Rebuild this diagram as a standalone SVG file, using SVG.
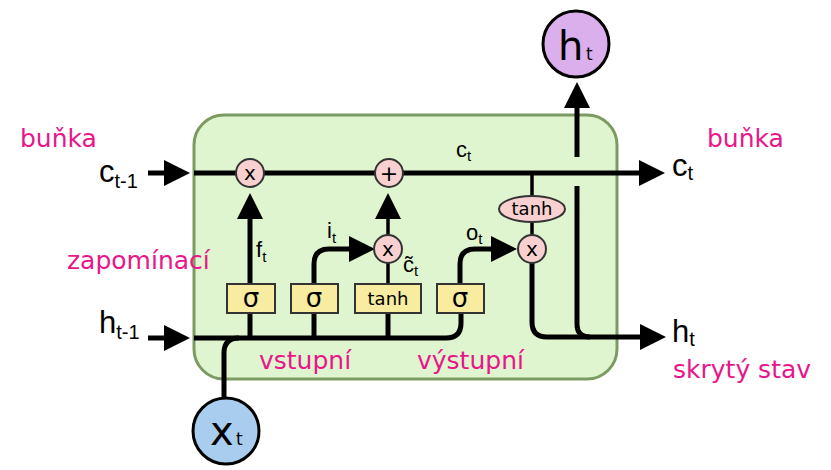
<svg xmlns="http://www.w3.org/2000/svg" width="831" height="470" viewBox="0 0 831 470">
<style>
.ln{fill:none;stroke:#000;stroke-width:5}
.thin{fill:none;stroke:#000;stroke-width:3.5}
.op{fill:#f9d0d0;stroke:#333;stroke-width:2}
.gate{fill:#f7eca0;stroke:#333;stroke-width:2}
.lbl{font-family:"DejaVu Sans",sans-serif;font-size:25px;fill:#e8168a}
.math{font-family:"Liberation Sans",Arial,sans-serif;fill:#000}
.dv{font-family:"DejaVu Sans",sans-serif;fill:#000}
</style>
<defs>
<marker id="arr" viewBox="0 0 26 26" refX="6" refY="13" markerWidth="26" markerHeight="26" markerUnits="userSpaceOnUse" orient="auto">
<path d="M0,0 L26,13 L0,26 z" fill="#000"/>
</marker>
</defs>
<rect width="831" height="470" fill="#fff"/>
<g id="cell">
<rect x="194" y="115" width="423" height="264" rx="30" ry="30" fill="#dff5cf" stroke="#7b9b63" stroke-width="3"/>
</g>
<g id="connectors">
<line class="ln" x1="148" y1="173" x2="170" y2="173" marker-end="url(#arr)"/>
<line class="ln" x1="194" y1="173" x2="645" y2="173" marker-end="url(#arr)"/>
<line class="ln" x1="148" y1="338" x2="170" y2="338" marker-end="url(#arr)"/>
<path class="ln" d="M194,338 L446,338 Q461,338 461,323 L461,313"/>
<path class="ln" d="M224,397 L224,353 Q224,338 239,338"/>
<line class="ln" x1="250" y1="338" x2="250" y2="313"/>
<line class="ln" x1="314" y1="338" x2="314" y2="313"/>
<line class="ln" x1="388" y1="338" x2="388" y2="313"/>
<line class="ln" x1="250" y1="284" x2="250" y2="213" marker-end="url(#arr)"/>
<path class="ln" d="M314,284 L314,264 Q314,249 329,249 L355,249" marker-end="url(#arr)"/>
<path class="ln" d="M460,284 L460,264 Q460,249 475,249 L497,249" marker-end="url(#arr)"/>
<line class="thin" x1="388" y1="284" x2="388" y2="262"/>
<line class="thin" x1="388" y1="236" x2="388" y2="213" marker-end="url(#arr)"/>
<line class="thin" x1="532" y1="173" x2="532" y2="197"/>
<line class="thin" x1="532" y1="221" x2="532" y2="236"/>
<path class="ln" d="M532,262 L532,322 Q532,337 547,337 L646,337" marker-end="url(#arr)"/>
<path class="ln" d="M577,186 L577,324 Q577,337 590,337"/>
<line class="ln" x1="577" y1="157" x2="577" y2="102" marker-end="url(#arr)"/>
</g>
<g id="forget-gate">
<rect class="gate" x="227" y="284" width="48" height="29"/>
<text class="dv" x="251" y="307" font-size="26" text-anchor="middle">σ</text>
</g>
<g id="input-gate">
<rect class="gate" x="291" y="284" width="47" height="29"/>
<text class="dv" x="314" y="307" font-size="26" text-anchor="middle">σ</text>
</g>
<g id="candidate">
<rect class="gate" x="355" y="284" width="66" height="29"/>
<text class="dv" x="388" y="305" font-size="18" text-anchor="middle">tanh</text>
</g>
<g id="output-gate">
<rect class="gate" x="437" y="284" width="47" height="29"/>
<text class="dv" x="460" y="307" font-size="26" text-anchor="middle">σ</text>
</g>
<g id="mul-forget">
<circle class="op" cx="250" cy="173" r="14"/>
<text class="dv" x="250" y="180" font-size="20" text-anchor="middle">x</text>
</g>
<g id="add">
<circle class="op" cx="389" cy="173" r="14"/>
<text class="dv" x="389" y="181" font-size="22" text-anchor="middle">+</text>
</g>
<g id="mul-input">
<circle class="op" cx="388" cy="249" r="14"/>
<text class="dv" x="388" y="256" font-size="20" text-anchor="middle">x</text>
</g>
<g id="tanh-out">
<ellipse class="op" cx="532" cy="209" rx="33" ry="13"/>
<text class="dv" x="532" y="215" font-size="18" text-anchor="middle">tanh</text>
</g>
<g id="mul-output">
<circle class="op" cx="532" cy="249" r="14"/>
<text class="dv" x="532" y="256" font-size="20" text-anchor="middle">x</text>
</g>
<g id="h-out">
<circle cx="576" cy="44" r="33" fill="#dbaeec" stroke="#000" stroke-width="3"/>
<text class="dv" x="558" y="60" font-size="40">h</text>
<text class="dv" x="586" y="60" font-size="17">t</text>
</g>
<g id="x-in">
<circle cx="226" cy="431" r="33" fill="#a8cdee" stroke="#000" stroke-width="3"/>
<text class="dv" x="210" y="445" font-size="40">x</text>
<text class="dv" x="236" y="445" font-size="17">t</text>
</g>
<g id="labels">
<text class="math" x="99" y="182" font-size="31">c<tspan font-size="20" dy="6">t-1</tspan></text>
<text class="math" x="99" y="333" font-size="31">h<tspan font-size="20" dy="6">t-1</tspan></text>
<text class="math" x="672" y="176" font-size="31">c<tspan font-size="20" dy="4">t</tspan></text>
<text class="math" x="672" y="342" font-size="31">h<tspan font-size="20" dy="4">t</tspan></text>
<text class="math" x="456" y="157" font-size="22">c<tspan font-size="15" dy="4">t</tspan></text>
<text class="math" x="256" y="257" font-size="22">f<tspan font-size="15" dy="5">t</tspan></text>
<text class="math" x="327" y="238" font-size="22">i<tspan font-size="15" dy="5">t</tspan></text>
<text class="math" x="466" y="240" font-size="22">o<tspan font-size="15" dy="4">t</tspan></text>
<text class="math" x="403" y="272" font-size="22">c̃<tspan font-size="15" dy="4">t</tspan></text>
<text class="lbl" x="20" y="147">buňka</text>
<text class="lbl" x="707" y="147">buňka</text>
<text class="lbl" x="67" y="269">zapomínací</text>
<text class="lbl" x="259" y="369">vstupní</text>
<text class="lbl" x="417" y="369">výstupní</text>
<text class="lbl" x="673" y="378">skrytý stav</text>
</g>
</svg>
